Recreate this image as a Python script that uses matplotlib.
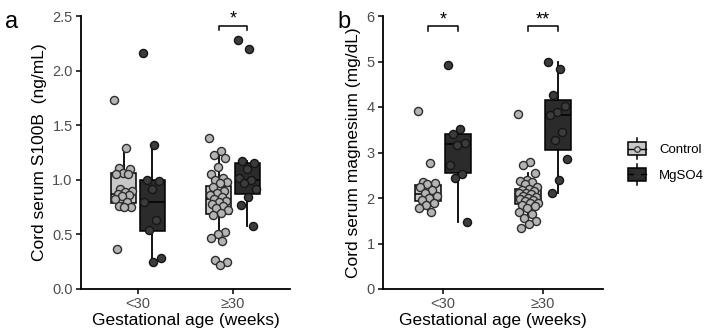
import numpy as np
import matplotlib.pyplot as plt
from matplotlib.patches import Rectangle
from matplotlib.lines import Line2D
from matplotlib.legend_handler import HandlerBase

plt.rcParams['font.family'] = ['Liberation Sans', 'DejaVu Sans']

groups = ['<30', '\u226530']
treatments = ['Control', 'MgSO4']

# cord serum S100B (ng/mL)
s100b_ctrl_lt30 = [1.73, 1.29, 1.11, 1.10, 1.06, 1.05, 1.05, 0.92, 0.90, 0.89,
                   0.87, 0.86, 0.85, 0.82, 0.80, 0.76, 0.75, 0.75, 0.37]
s100b_mg_lt30 = [2.16, 1.32, 1.00, 0.99, 0.92, 0.80, 0.63, 0.54, 0.28, 0.25]
s100b_ctrl_ge30 = [1.38, 1.26, 1.23, 1.20, 1.12, 1.05, 1.02, 1.00, 0.98, 0.97,
                   0.93, 0.90, 0.88, 0.86, 0.84, 0.82, 0.81, 0.80, 0.78, 0.76,
                   0.74, 0.72, 0.70, 0.68, 0.52, 0.50, 0.47, 0.44, 0.27, 0.25, 0.22]
s100b_mg_ge30 = [2.28, 2.20, 1.17, 1.15, 1.10, 1.02, 1.00, 0.97, 0.92, 0.84, 0.77, 0.58]

# box summaries, order: ctrl <30, MgSO4 <30, ctrl >=30, MgSO4 >=30
s100b_lo = [0.75, 0.25, 0.44, 0.58]
s100b_q1 = [0.79, 0.53, 0.69, 0.87]
s100b_med = [0.87, 0.80, 0.82, 1.00]
s100b_q3 = [1.06, 1.00, 0.94, 1.15]
s100b_hi = [1.29, 1.32, 1.26, 1.17]

# cord serum magnesium (mg/dL)
mg_ctrl_lt30 = [3.92, 2.78, 2.35, 2.33, 2.30, 2.25, 2.18, 2.10, 2.05, 2.00,
                1.95, 1.90, 1.85, 1.78, 1.70]
mg_mg_lt30 = [4.92, 3.52, 3.40, 3.20, 3.17, 2.72, 2.52, 2.45, 1.48]
mg_ctrl_ge30 = [3.85, 2.80, 2.72, 2.55, 2.40, 2.38, 2.36, 2.30, 2.25, 2.20,
                2.18, 2.15, 2.12, 2.10, 2.08, 2.05, 2.02, 2.00, 1.98, 1.95,
                1.93, 1.90, 1.88, 1.85, 1.82, 1.78, 1.70, 1.65, 1.55, 1.50,
                1.42, 1.35]
mg_mg_ge30 = [4.98, 4.83, 4.27, 4.02, 3.88, 3.83, 3.45, 3.28, 2.85, 2.40, 2.10]

mg_lo = [1.70, 1.48, 1.42, 2.10]
mg_q1 = [1.93, 2.54, 1.86, 3.06]
mg_med = [2.08, 3.18, 2.04, 3.82]
mg_q3 = [2.28, 3.41, 2.19, 4.15]
mg_hi = [2.35, 3.52, 2.55, 4.98]

# significance marks: (group index, label)
s100b_sig = [(1, '*')]
mg_sig = [(0, '*'), (1, '**')]

box_fill = ['#c8c8c8', '#2b2b2b']
pt_face = ['#b4b4b4', '#3c3c3c']
pt_edge = ['#2e2e2e', '#151515']
dodge = 0.15
box_w = 0.26


def draw_panel(ax, series, lo, q1, med, q3, hi, sig, ymax, yticks, ylabel, sig_y):
    k = 0
    for g in range(2):
        for t in range(2):
            x = g + (-dodge if t == 0 else dodge)
            st = dict(med=med[k], q1=q1[k], q3=q3[k], whislo=lo[k], whishi=hi[k], fliers=[])
            ax.bxp([st], positions=[x], widths=box_w, showfliers=False, showcaps=False,
                   patch_artist=True,
                   boxprops=dict(facecolor=box_fill[t], edgecolor='black', linewidth=1.1),
                   medianprops=dict(color='black', linewidth=1.1),
                   whiskerprops=dict(color='black', linewidth=1.3))
            vals = np.array(series[k])
            n = len(vals)
            jit = np.array([((i * 0.618) % 1.0 - 0.5) for i in range(n)]) * 0.2
            ax.scatter(x + jit, vals, s=34, facecolor=pt_face[t], edgecolor=pt_edge[t],
                       linewidth=1.0, zorder=4)
            k += 1
    for g, lab in sig:
        x0, x1 = g - dodge, g + dodge
        d = ymax * 0.016
        ax.plot([x0, x0, x1, x1], [sig_y - d, sig_y, sig_y, sig_y - d], color='black',
                lw=1.1, clip_on=False)
        ax.text(g, sig_y - d * 0.4, lab, ha='center', va='bottom', fontsize=13)
    ax.set_xlim(-0.6, 1.6)
    ax.set_ylim(0, ymax)
    ax.set_xticks([0, 1])
    ax.set_xticklabels(groups)
    ax.set_yticks(yticks)
    ax.spines['top'].set_visible(False)
    ax.spines['right'].set_visible(False)
    for s in ['left', 'bottom']:
        ax.spines[s].set_linewidth(1.3)
    ax.tick_params(labelsize=10.5, labelcolor='#4d4d4d', width=1.1, length=3.5, pad=2.5)
    ax.set_xlabel('Gestational age (weeks)', fontsize=12.5, labelpad=1)
    ax.set_ylabel(ylabel, fontsize=12.5, labelpad=4)


class BoxKeyHandler(HandlerBase):
    def create_artists(self, legend, orig_handle, xdescent, ydescent, width, height,
                       fontsize, trans):
        fc = orig_handle.get_facecolor()
        cx = -xdescent + width / 2
        cy = -ydescent + height / 2
        vl = Line2D([cx, cx], [cy - height * 0.85, cy + height * 0.85], color='black',
                    lw=1.1, transform=trans)
        rect = Rectangle((-xdescent, -ydescent), width, height, facecolor=fc,
                         edgecolor='black', lw=1.1, transform=trans)
        hl = Line2D([-xdescent, -xdescent + width], [cy, cy], color='black', lw=1.0,
                    transform=trans)
        dot = Line2D([cx], [cy], marker='o', ms=4, mfc=fc, mec='#333333', mew=0.9,
                     transform=trans)
        return [vl, rect, hl, dot]


fig = plt.figure(figsize=(7.09, 3.29), dpi=100)
ax1 = fig.add_axes([81 / 709, 40 / 329, 209 / 709, 273 / 329])
ax2 = fig.add_axes([383 / 709, 40 / 329, 220 / 709, 273 / 329])

draw_panel(ax1, [s100b_ctrl_lt30, s100b_mg_lt30, s100b_ctrl_ge30, s100b_mg_ge30],
           s100b_lo, s100b_q1, s100b_med, s100b_q3, s100b_hi, s100b_sig,
           2.5, [0.0, 0.5, 1.0, 1.5, 2.0, 2.5], 'Cord serum S100B  (ng/mL)', 2.41)
ax1.set_yticklabels(['0.0', '0.5', '1.0', '1.5', '2.0', '2.5'])
draw_panel(ax2, [mg_ctrl_lt30, mg_mg_lt30, mg_ctrl_ge30, mg_mg_ge30],
           mg_lo, mg_q1, mg_med, mg_q3, mg_hi, mg_sig,
           6, [0, 1, 2, 3, 4, 5, 6], 'Cord serum magnesium (mg/dL)', 5.77)

fig.text(5 / 709, 1 - 22 / 329, 'a', fontsize=17, va='center', ha='left')
fig.text(337 / 709, 1 - 22 / 329, 'b', fontsize=17, va='center', ha='left')

handles = [Rectangle((0, 0), 1, 1, facecolor=box_fill[0]),
           Rectangle((0, 0), 1, 1, facecolor=box_fill[1])]
fig.legend(handles, treatments, handler_map={Rectangle: BoxKeyHandler()},
           loc='center left', bbox_to_anchor=(628 / 709, 1 - 162 / 329),
           borderaxespad=0, borderpad=0,
           frameon=False, fontsize=9.5, handlelength=1.35, handleheight=1.1,
           labelspacing=0.9, handletextpad=1.0)

fig.savefig('out.png', dpi=100)
